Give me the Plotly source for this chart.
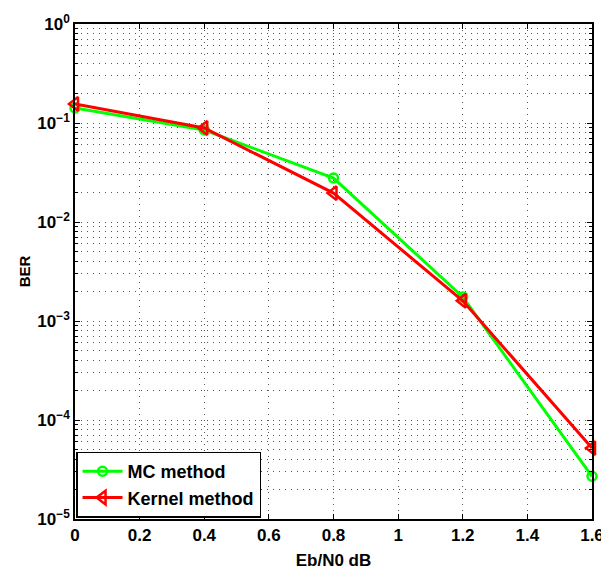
import plotly.graph_objects as go

ebn0 = [0, 0.4, 0.8, 1.2, 1.6]
ber_mc = [0.142, 0.085, 0.0278, 0.00175, 2.7e-5]
ber_kernel = [0.156, 0.089, 0.0196, 0.0016, 5.2e-5]
xticks = [0, 0.2, 0.4, 0.6, 0.8, 1, 1.2, 1.4, 1.6]
xticklabels = ["<b>0</b>", "<b>0.2</b>", "<b>0.4</b>", "<b>0.6</b>", "<b>0.8</b>", "<b>1</b>",
               "<b>1.2</b>", "<b>1.4</b>", "<b>1.6</b>"]
yticks = [1, 1e-1, 1e-2, 1e-3, 1e-4, 1e-5]
yticklabels = ["<b>10<sup>0</sup></b>", "<b>10<sup>−1</sup></b>", "<b>10<sup>−2</sup></b>",
               "<b>10<sup>−3</sup></b>", "<b>10<sup>−4</sup></b>", "<b>10<sup>−5</sup></b>"]

FAM = "Liberation Sans, Arial, sans-serif"
GRID = "#555555"
DASH = "1px,5px"

fig = go.Figure()
fig.add_trace(go.Scatter(x=ebn0, y=ber_mc, name="MC method", mode="lines+markers",
                         cliponaxis=False,
                         line=dict(color="#00ff00", width=3),
                         marker=dict(symbol="circle-open", size=9, color="#00ff00",
                                     line=dict(width=2.5))))
fig.add_trace(go.Scatter(x=ebn0, y=ber_kernel, name="Kernel method", mode="lines+markers",
                         cliponaxis=False,
                         line=dict(color="#ff0000", width=3),
                         marker=dict(symbol="triangle-left-open", size=12, color="#ff0000",
                                     line=dict(width=2.5))))

axis_common = dict(showline=True, linecolor="black", linewidth=1.5, mirror="ticks",
                   ticks="inside", ticklen=5, tickcolor="black", zeroline=False,
                   automargin=False,
                   gridcolor=GRID, griddash=DASH, gridwidth=1,
                   tickfont=dict(family=FAM, size=17, color="black"))
fig.update_xaxes(range=[0, 1.6], tickvals=xticks, ticktext=xticklabels,
                 title=dict(text="<b>Eb/N0 dB</b>", standoff=10,
                            font=dict(family=FAM, size=17, color="black")),
                 **axis_common)
fig.update_yaxes(type="log", range=[-5, 0], tickvals=yticks, ticktext=yticklabels,
                 title=dict(text="<b>BER</b>", standoff=3,
                            font=dict(family=FAM, size=15, color="black")),
                 minor=dict(showgrid=True, gridcolor=GRID, griddash=DASH,
                            ticks="inside", ticklen=3, tickcolor="black",
                            tickvals=[m * 10 ** e for e in range(-5, 0) for m in range(2, 10)]),
                 **axis_common)
# page body has an 8px margin, so the figure is shrunk to keep the same plot area
fig.update_layout(width=601, height=566, margin=dict(l=67, r=17, t=16, b=55),
                  plot_bgcolor="white", paper_bgcolor="white",
                  font=dict(family=FAM, size=14, color="black"),
                  legend=dict(x=0.002, y=0.003, xanchor="left", yanchor="bottom",
                              bgcolor="white", bordercolor="black", borderwidth=1.5,
                              font=dict(family=FAM, size=18, color="black", weight="bold"),
                              itemwidth=40, tracegroupgap=8))
fig.write_html("out.html")
